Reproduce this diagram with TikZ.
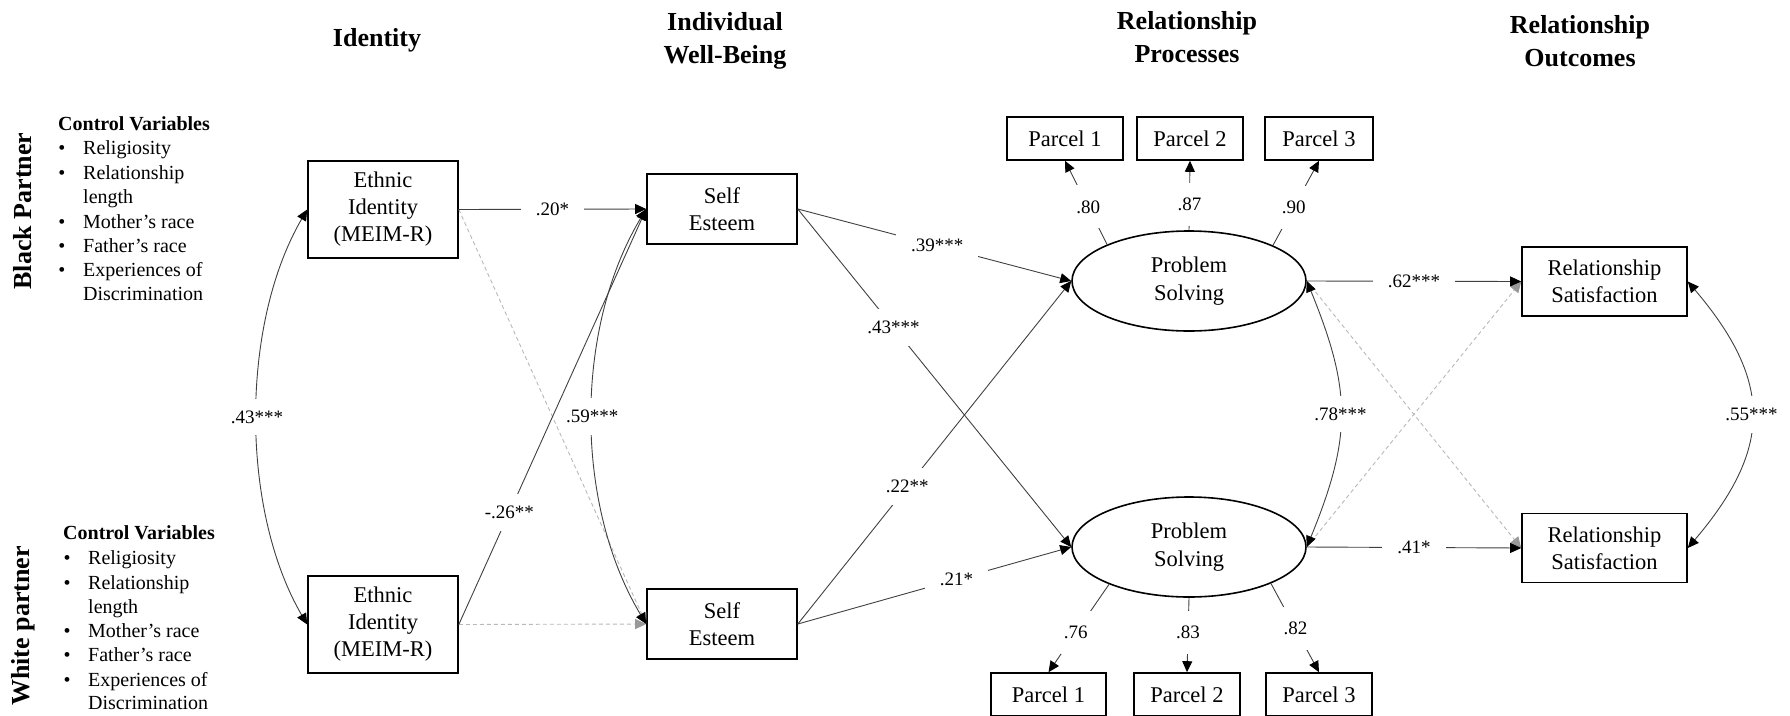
\documentclass[tikz,border=0pt]{standalone}
\usepackage{fontspec}
\setmainfont{Liberation Serif}
\usetikzlibrary{arrows.meta,shapes.geometric}
\begin{document}
\begin{tikzpicture}[x=1pt,y=-1pt,
  box/.style={draw=black, line width=1.6pt, inner sep=0pt, align=center, font=\fontsize{22.5}{27}\selectfont},
  oval/.style={draw=black, line width=1.6pt, ellipse, inner sep=0pt, align=center, minimum width=234pt, minimum height=100pt, font=\fontsize{22.5}{28}\selectfont},
  title/.style={font=\fontsize{26}{33}\selectfont\bfseries, align=center, inner sep=0pt},
  side/.style={font=\fontsize{26}{30}\selectfont\bfseries, rotate=90, inner sep=0pt},
  cvh/.style={anchor=west, inner sep=0pt, font=\fontsize{20}{24}\selectfont\bfseries, text height=14pt, text depth=5pt},
  cvt/.style={anchor=west, inner sep=0pt, font=\fontsize{20}{24}\selectfont, text height=14pt, text depth=5pt},
  cvb/.style={inner sep=0pt, font=\fontsize{20}{24}\selectfont},
  tip/.style={-{Triangle[length=11pt,width=10pt]}},
  conn/.style={draw=black!75, line width=0.9pt, -{Triangle[length=11pt,width=10pt,color=black]}},
  dconn/.style={draw=black!28, line width=0.9pt, dash pattern=on 4pt off 3pt, -{Triangle[length=11pt,width=10pt,color=black!40]}},
  cov/.style={draw=black!75, line width=0.9pt, {Triangle[length=11pt,width=10pt,color=black]}-{Triangle[length=11pt,width=10pt,color=black]}},
  lbl/.style={fill=white, inner xsep=15pt, inner ysep=12pt, font=\fontsize{19}{22}\selectfont},
  lblv/.style={fill=white, inner xsep=3pt, inner ysep=15pt, font=\fontsize{19}{22}\selectfont}
]
\useasboundingbox (0,0) rectangle (1790,715);

% titles
\node[title] (t1) at (377,40) {Identity};
\node[title] (t2) at (725,41) {Individual\\Well-Being};
\node[title] (t3) at (1187,37) {Relationship\\Processes};
\node[title] (t4) at (1580,41) {Relationship\\Outcomes};

% side labels
\node[side] (bp) at (23,211) {Black Partner};
\node[side] (wp) at (23,626) {White partner};

% control variables (top)
\node[cvh] (ch1) at (58,126) {Control Variables};
\node[cvb] (b11) at (62,150) {\textbullet};
\node[cvt] (c11) at (83,150) {Religiosity};
\node[cvb] (b12) at (62,175) {\textbullet};
\node[cvt] (c12) at (83,175) {Relationship};
\node[cvt] (c13) at (83,199) {length};
\node[cvb] (b14) at (62,224) {\textbullet};
\node[cvt] (c14) at (83,224) {Mother’s race};
\node[cvb] (b15) at (62,248) {\textbullet};
\node[cvt] (c15) at (83,248) {Father’s race};
\node[cvb] (b16) at (62,272) {\textbullet};
\node[cvt] (c16) at (83,272) {Experiences of};
\node[cvt] (c17) at (83,296) {Discrimination};

% control variables (bottom)
\node[cvh] (ch2) at (63,535) {Control Variables};
\node[cvb] (b21) at (67,560) {\textbullet};
\node[cvt] (c21) at (88,560) {Religiosity};
\node[cvb] (b22) at (67,585) {\textbullet};
\node[cvt] (c22) at (88,585) {Relationship};
\node[cvt] (c23) at (88,609) {length};
\node[cvb] (b24) at (67,633) {\textbullet};
\node[cvt] (c24) at (88,633) {Mother’s race};
\node[cvb] (b25) at (67,657) {\textbullet};
\node[cvt] (c25) at (88,657) {Father’s race};
\node[cvb] (b26) at (67,682) {\textbullet};
\node[cvt] (c26) at (88,682) {Experiences of};
\node[cvt] (c27) at (88,705) {Discrimination};

% main boxes
\node[box, minimum width=150pt, minimum height=97pt] (e1) at (383,209.5) {Ethnic\\Identity\\(MEIM-R)};
\node[box, minimum width=150pt, minimum height=97pt] (e2) at (383,624.5) {Ethnic\\Identity\\(MEIM-R)};
\node[box, minimum width=150pt, minimum height=70pt] (se1) at (722,209) {Self\\Esteem};
\node[box, minimum width=150pt, minimum height=70pt] (se2) at (722,624) {Self\\Esteem};
\node[oval] (ps1) at (1189,281) {Problem\\Solving};
\node[oval] (ps2) at (1189,547) {Problem\\Solving};
\node[box, minimum width=165pt, minimum height=69pt] (rs1) at (1604.5,281.5) {Relationship\\Satisfaction};
\node[box, minimum width=165pt, minimum height=69pt] (rs2) at (1604.5,548) {Relationship\\Satisfaction};

% parcels
\node[box, minimum width=116pt, minimum height=43pt] (pa1) at (1065,138.5) {Parcel 1};
\node[box, minimum width=106pt, minimum height=43pt] (pa2) at (1190,138.5) {Parcel 2};
\node[box, minimum width=108pt, minimum height=43pt] (pa3) at (1319,138.5) {Parcel 3};
\node[box, minimum width=115pt, minimum height=43pt] (pb1) at (1048.5,694.5) {Parcel 1};
\node[box, minimum width=106pt, minimum height=43pt] (pb2) at (1187,694.5) {Parcel 2};
\node[box, minimum width=106pt, minimum height=43pt] (pb3) at (1319,694.5) {Parcel 3};

% dashed (non-significant) paths
\draw[dconn] (e1.east) -- (se2.west);
\draw[dconn] (e2.east) -- (se2.west);
\draw[dconn] (ps1.east) -- (rs2.west);
\draw[dconn] (ps2.east) -- (rs1.west);

% identity -> self esteem
\draw[conn] (e1.east) -- node[lbl, pos=0.5] {.20*} (se1.west);
\draw[conn] (e2.east) -- node[lbl, pos=0.27] {-.26**} (se1.west);

% self esteem -> problem solving
\draw[conn] (se1.east) -- node[lbl, pos=0.51] {.39***} (ps1.west);
\draw[conn] (se1.east) -- node[lbl, pos=0.35] {.43***} (ps2.west);
\draw[conn] (se2.east) -- node[lbl, pos=0.40] {.22**} (ps1.west);
\draw[conn] (se2.east) -- node[lbl, pos=0.58] {.21*} (ps2.west);

% problem solving -> satisfaction
\draw[conn] (ps1.east) -- node[lbl, pos=0.5] {.62***} (rs1.west);
\draw[conn] (ps2.east) -- node[lbl, pos=0.5] {.41*} (rs2.west);

% covariances
\draw[cov] (e1.west) .. controls +(-67,115) and +(-67,-115) .. node[lbl, inner xsep=2pt] {.43***} (e2.west);
\draw[cov] (se1.west) .. controls +(-72,120) and +(-72,-120) .. node[lbl, inner xsep=2pt] {.59***} (se2.west);
\draw[cov] (ps1.east) .. controls +(45,110) and +(45,-110) .. node[lbl, inner xsep=2pt] {.78***} (ps2.east);
\draw[cov] (rs1.east) .. controls +(85,100) and +(85,-100) .. node[lbl, inner xsep=2pt] {.55***} (rs2.east);

% loadings
\draw[conn] (ps1.156) -- node[lblv, pos=0.45] {.80} (pa1.south);
\draw[conn] (ps1.north) -- node[lblv, pos=0.37] {.87} (pa2.south);
\draw[conn] (ps1.23) -- node[lblv, pos=0.45] {.90} (pa3.south);
\draw[conn] (ps2.205) -- node[lblv, pos=0.55] {.76} (pb1.north);
\draw[conn] (ps2.south) -- node[lblv, pos=0.47] {.83} (pb2.north);
\draw[conn] (ps2.336) -- node[lblv, pos=0.51] {.82} (pb3.north);
\end{tikzpicture}
\end{document}
